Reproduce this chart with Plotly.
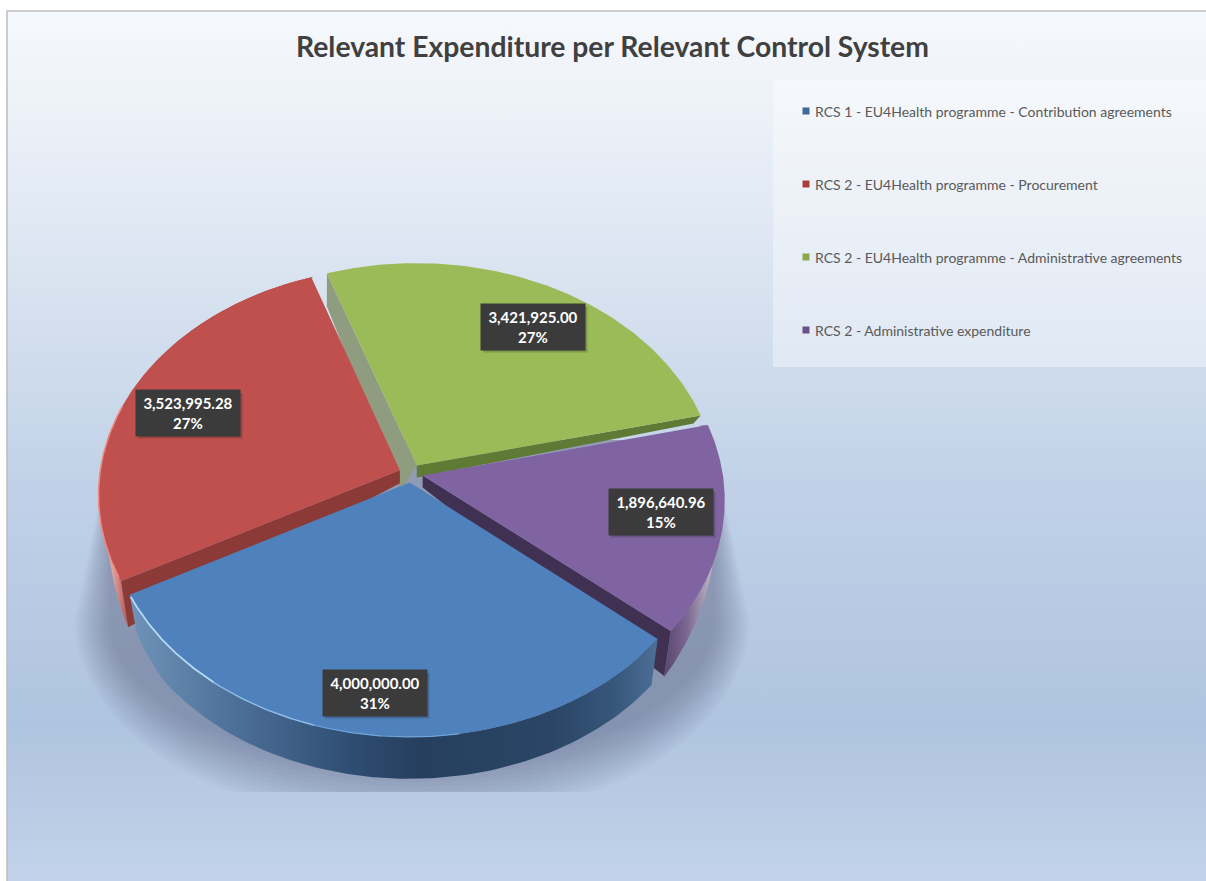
import numpy as np
import plotly.graph_objects as go

# Expenditure per control system
categories = [
    "RCS 1 - EU4Health programme - Contribution agreements",
    "RCS 2 - EU4Health programme - Procurement",
    "RCS 2 - EU4Health programme - Administrative agreements",
    "RCS 2 - Administrative expenditure",
]
values = [4000000.00, 3523995.28, 3421925.00, 1896640.96]
top_colors = ["#4f81bd", "#c0504d", "#9bbb59", "#8064a2"]
legend_colors = ["#3f6a9c", "#a8413e", "#8aa84e", "#6b5089"]
title_text = "Relevant Expenditure per Relevant Control System"

# Pie projection settings, in page pixels
CX, CY = 411.0, 473.5
RX, RY = 300.0, 225.5
PERSP = 0.1057
EXPLODE = 0.04
FIRST_ANGLE = 129.9
W, H = 1206, 881


def project(u, v):
    s = 1.0 / (1.0 - PERSP * v)
    return CX + RX * u * s, CY + RY * v * s


def disk(angle_deg):
    a = np.radians(angle_deg)
    return np.sin(a), -np.cos(a)


def rim_depth(v, factor=1.0):
    d = factor * 46.0 * np.clip((v + 0.2) / 0.85, 0.0, 1.0)
    return np.minimum(47.0, d) - 12.0 * np.clip(v - 0.7, 0.0, None)


def poly(x, y, color=None, gradient=None, name=None):
    tr = dict(x=x, y=y, mode="lines", fill="toself", line=dict(width=0),
              hoverinfo="skip", showlegend=False)
    if gradient is not None:
        tr["fillgradient"] = gradient
    else:
        tr["fillcolor"] = color
    if name:
        tr["name"] = name
    return go.Scatter(**tr)


fig = go.Figure()

# Chart area backdrop
fig.add_trace(poly([7, W, W, 7, 7], [11, 11, H, H, 11], gradient=dict(
    type="vertical", start=11, stop=H,
    colorscale=[[0, "#f6f9fd"], [0.12, "#ecf1f8"], [0.3, "#dae4f1"], [0.55, "#c0d1e7"],
                [0.82, "#afc4e0"], [1, "#c2d3e9"]])))

# Soft ground shadow under the pie, built from faint layers
LAYERS = 13
for k in range(LAYERS):
    t = k / (LAYERS - 1.0)
    rx = 337 - 34 * t
    ry = 204 - 56 * t
    th = np.linspace(np.pi, 0, 90)
    sx = 412 + rx * np.cos(th)
    sy = np.minimum(620 + ry * np.sin(th), 792)
    sx = np.concatenate([[112], sx, [712]])
    sy = np.concatenate([[440], sy, [440]])
    fig.add_trace(poly(sx, sy, color="rgba(60,66,80,0.032)"))

# Slice angles, clockwise from north, follow the values
total = sum(values)
sweeps = [v / total * 360.0 for v in values]
starts = [FIRST_ANGLE + sum(sweeps[:i]) for i in range(len(values))]
slices = []
for i in range(len(values)):
    a0, a1 = starts[i], starts[i] + sweeps[i]
    ub, vb = disk((a0 + a1) / 2)
    slices.append(dict(a0=a0, a1=a1, ou=EXPLODE * ub, ov=EXPLODE * vb))


def slice_points(i):
    sl = slices[i]
    ang = np.linspace(sl["a0"], sl["a1"], 120)
    u, v = disk(ang)
    return u + sl["ou"], v + sl["ov"]


def rim_wall(i, factor, gradient):
    u, v = slice_points(i)
    x, y = project(u, v)
    d = rim_depth(v, factor)
    bx = CX + (x - CX) * 0.975
    by = y + d
    fig.add_trace(poly(np.concatenate([x, bx[::-1]]), np.concatenate([y, by[::-1]]),
                       gradient=gradient))


def radial_wall(i, end, h_apex, h_tip, color, inset=0.975, apex_dx=0.0):
    sl = slices[i]
    ax, ay = project(sl["ou"], sl["ov"])
    u, v = disk(sl[end])
    tx, ty = project(u + sl["ou"], v + sl["ov"])
    btx = CX + (tx - CX) * inset
    fig.add_trace(poly([ax, tx, btx, ax + apex_dx, ax],
                       [ay, ty, ty + h_tip, ay + h_apex, ay], color=color))


def top_face(i, name):
    sl = slices[i]
    u, v = slice_points(i)
    x, y = project(u, v)
    ax, ay = project(sl["ou"], sl["ov"])
    fig.add_trace(poly(np.concatenate([[ax], x, [ax]]), np.concatenate([[ay], y, [ay]]),
                       color=top_colors[i], name=name))


def rim_light(i, a0, a1, color, width):
    sl = slices[i]
    ang = np.linspace(a0, a1, 60)
    u, v = disk(ang)
    x, y = project(u + sl["ou"], v + sl["ov"])
    fig.add_trace(go.Scatter(x=x, y=y, mode="lines", line=dict(color=color, width=width),
                             hoverinfo="skip", showlegend=False))


# Green slice: inner faces first, then the top
radial_wall(2, "a0", 26, 33, "#8f9c80", inset=1.0, apex_dx=-16)
radial_wall(2, "a1", 12, 8, "#5f7a34")
top_face(2, categories[2])

# Red slice
rim_wall(1, 1.3, dict(type="horizontal", start=98, stop=132,
                      colorscale=[[0, "#e6c9c8"], [0.45, "#dca09c"], [1, "#b03f3b"]]))
radial_wall(1, "a0", 13, 46, "#8b3a37")
top_face(1, categories[1])
rim_light(1, starts[1] + 1, starts[1] + 45, "#ee8a82", 1.5)

# Purple slice
rim_wall(3, 1.0, dict(type="horizontal", start=655, stop=725,
                      colorscale=[[0, "#4d3a63"], [0.45, "#7a6690"], [0.85, "#c3bccb"], [1, "#d8d4dc"]]))
radial_wall(3, "a1", 12, 45, "#403152")
top_face(3, categories[3])

# Blue slice sits in front of everything else
rim_wall(0, 1.0, dict(type="horizontal", start=132, stop=655,
                      colorscale=[[0, "#6f92b8"], [0.2, "#4c6f98"], [0.42, "#2f4d72"], [0.55, "#263f5f"],
                                  [0.8, "#2a4565"], [0.92, "#36567a"], [1, "#4b6e95"]]))
top_face(0, categories[0])
a_end = starts[0] + sweeps[0] - 0.5
rim_light(0, a_end - 25, a_end, "#b4dcf6", 1.7)
rim_light(0, a_end - 45, a_end - 25, "#8fc0ea", 1.4)
rim_light(0, a_end - 70, a_end - 45, "#6ea6dc", 1.2)

# Legend panel and swatches
fig.add_trace(poly([773, W, W, 773, 773], [80, 80, 367, 367, 80], color="rgba(255,255,255,0.36)"))
legend_y = [111, 184, 257, 330]
for cat, col, ly in zip(categories, legend_colors, legend_y):
    fig.add_trace(go.Scatter(x=[806], y=[ly], mode="markers", name=cat, showlegend=False,
                             marker=dict(symbol="square", size=7, color=col), hoverinfo="name"))

shapes = [
    dict(type="rect", xref="x", yref="y", x0=7, x1=W + 5, y0=11, y1=H + 5,
         fillcolor="rgba(0,0,0,0)", line=dict(color="#bdbdbd", width=1.5)),
]

annotations = [
    dict(x=612.5, y=46, xref="x", yref="y", text="<b>%s</b>" % title_text, showarrow=False,
         font=dict(family="Lato", size=28.3, color="#404040"), xanchor="center", yanchor="middle"),
]
for cat, ly in zip(categories, legend_y):
    annotations.append(dict(x=812.5, y=ly, xref="x", yref="y", text=cat, showarrow=False,
                            font=dict(family="Lato", size=14, color="#595959"),
                            xanchor="left", yanchor="middle"))

# Value labels, from the same numbers as the slices
label_centers = [(375, 693), (188, 413), (533, 327), (661, 512)]
for val, (lx, ly) in zip(values, label_centers):
    for grow, alpha in ((3, 0.12), (1.5, 0.2)):
        shapes.append(dict(type="rect", xref="x", yref="y",
                           x0=lx - 50, x1=lx + 52 + grow, y0=ly - 20, y1=ly + 23 + grow,
                           fillcolor="rgba(30,30,30,%g)" % alpha, line=dict(width=0)))
    annotations.append(dict(
        x=lx, y=ly, xref="x", yref="y",
        text="<b>%s<br>%d%%</b>" % (f"{val:,.2f}", round(val / total * 100)),
        showarrow=False, font=dict(family="Lato", size=15, color="#ffffff"),
        bgcolor="#3b3b3b", width=104, height=46, align="center", valign="middle",
        xanchor="center", yanchor="middle", borderpad=0))

fig.update_layout(
    width=W, height=H, margin=dict(l=0, r=0, t=0, b=0),
    paper_bgcolor="#ffffff", plot_bgcolor="#ffffff", showlegend=False,
    xaxis=dict(range=[0, W], visible=False, fixedrange=True),
    yaxis=dict(range=[H, 0], visible=False, fixedrange=True),
    shapes=shapes, annotations=annotations,
)

fig.write_html("out.html", config=dict(displayModeBar=False))
